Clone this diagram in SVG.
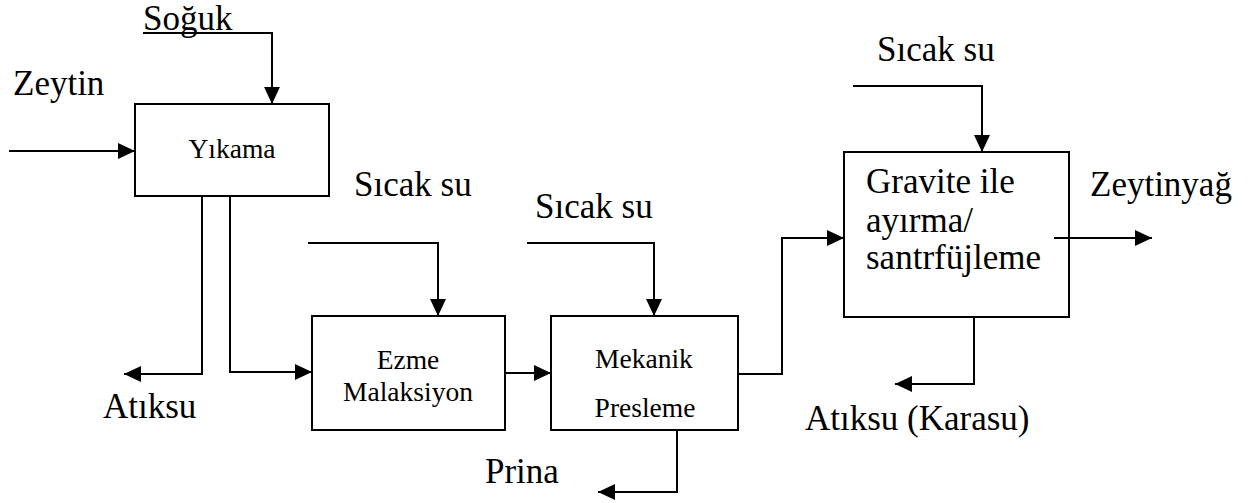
<svg xmlns="http://www.w3.org/2000/svg" width="1258" height="503" viewBox="0 0 1258 503">
  <style>
    .box { fill: #fff; stroke: #000; stroke-width: 2; }
    .wire { fill: none; stroke: #000; stroke-width: 2; }
    .lbl { font-family: "Liberation Serif", "Times New Roman", serif; font-size: 35px; fill: #000; }
    .in { font-family: "Liberation Serif", "Times New Roman", serif; font-size: 27.5px; fill: #000; text-anchor: middle; }
  </style>
  <defs>
    <marker id="arrow" markerUnits="userSpaceOnUse" markerWidth="17" markerHeight="16" refX="17" refY="8" orient="auto">
      <path d="M0,0 L17,8 L0,16 z" fill="#000"/>
    </marker>
  </defs>
  <rect width="1258" height="503" fill="#fff"/>

  <g id="yikama">
    <rect class="box" x="135" y="104" width="194" height="92"/>
    <text class="in" x="232" y="158">Yıkama</text>
  </g>

  <g id="ezme">
    <rect class="box" x="312" y="316" width="193" height="114"/>
    <text class="in" x="408" y="369">Ezme</text>
    <text class="in" x="408" y="401">Malaksiyon</text>
  </g>

  <g id="presleme">
    <rect class="box" x="551" y="316" width="187" height="114"/>
    <text class="in" x="644" y="368">Mekanik</text>
    <text class="in" x="645" y="417">Presleme</text>
  </g>

  <g id="ayirma">
    <rect class="box" x="844" y="152" width="225" height="165"/>
    <text class="lbl" x="866" y="193">Gravite ile</text>
    <text class="lbl" x="866" y="232">ayırma/</text>
    <text class="lbl" x="866" y="269">santrfüjleme</text>
  </g>

  <g id="connectors">
    <!-- feeds into washing -->
    <path class="wire" d="M9,151 H135" marker-end="url(#arrow)"/>
    <path class="wire" d="M143,33 H272 V104" marker-end="url(#arrow)"/>
    <!-- washing outputs -->
    <path class="wire" d="M202,196 V374 H124" marker-end="url(#arrow)"/>
    <path class="wire" d="M230,196 V372 H312" marker-end="url(#arrow)"/>
    <!-- hot water to crushing -->
    <path class="wire" d="M308,243 H438 V316" marker-end="url(#arrow)"/>
    <!-- crushing to pressing -->
    <path class="wire" d="M505,373 H551" marker-end="url(#arrow)"/>
    <!-- hot water to pressing -->
    <path class="wire" d="M527,243 H654 V316" marker-end="url(#arrow)"/>
    <!-- pomace out -->
    <path class="wire" d="M677,430 V492 H598" marker-end="url(#arrow)"/>
    <!-- pressing to separation -->
    <path class="wire" d="M738,374 H782 V238 H844" marker-end="url(#arrow)"/>
    <!-- hot water to separation -->
    <path class="wire" d="M853,86 H982 V152" marker-end="url(#arrow)"/>
    <!-- olive oil out -->
    <path class="wire" d="M1054,238 H1152" marker-end="url(#arrow)"/>
    <!-- vegetation water out -->
    <path class="wire" d="M974,317 V384 H895" marker-end="url(#arrow)"/>
  </g>

  <g id="labels">
    <text class="lbl" x="13" y="95">Zeytin</text>
    <text class="lbl" x="143" y="30">Soğuk</text>
    <text class="lbl" x="103" y="418">Atıksu</text>
    <text class="lbl" x="354" y="196">Sıcak su</text>
    <text class="lbl" x="535" y="218">Sıcak su</text>
    <text class="lbl" x="877" y="61">Sıcak su</text>
    <text class="lbl" x="485" y="483">Prina</text>
    <text class="lbl" x="1090" y="196">Zeytinyağ</text>
    <text class="lbl" x="805" y="430">Atıksu (Karasu)</text>
  </g>
</svg>
